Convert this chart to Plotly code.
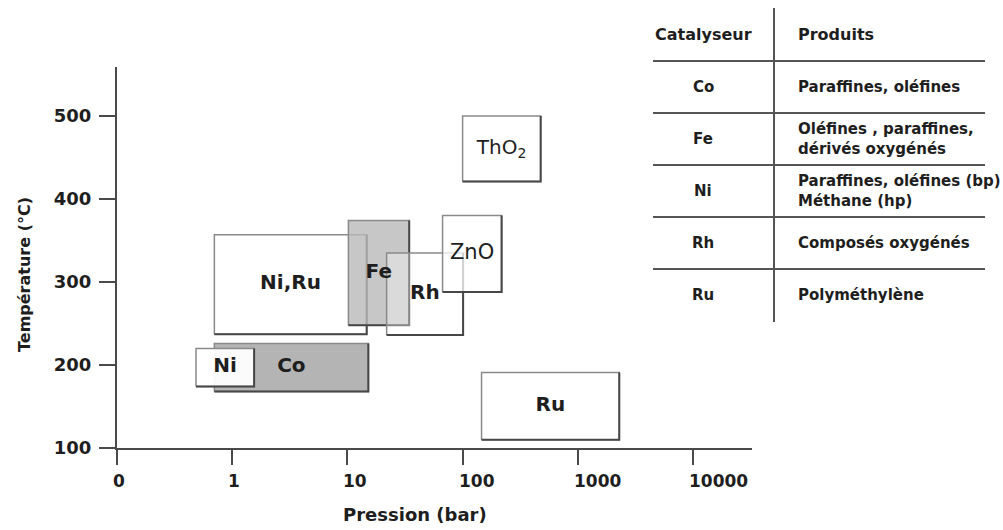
import numpy as np
import plotly.graph_objects as go

W, H = 1003, 530

# Domaines de pression / température des catalyseurs (ordre de superposition)
catalyseurs = ["Ni,Ru", "Co", "Ni", "Fe", "Rh", "ZnO", "ThO<sub>2</sub>", "Ru"]
p_min = [0.70, 0.70, 0.485, 10.2, 21.9, 67, 100, 146]      # bar
p_max = [14.7, 15.2, 1.55, 34.4, 101, 218, 476, 2290]      # bar
t_min = [237, 168, 174, 248, 236, 288, 421, 110]           # °C
t_max = [357, 226, 220, 374, 335, 380, 500, 191]           # °C

# Tableau des produits
tab_catalyseur = ["Co", "Fe", "Ni", "Rh", "Ru"]
tab_produits = [
    "Paraffines, oléfines",
    "Oléfines , paraffines,<br>dérivés oxygénés",
    "Paraffines, oléfines (bp)<br>Méthane (hp)",
    "Composés oxygénés",
    "Polyméthylène",
]

x_tickvals = [0.1, 1, 10, 100, 1000, 10000]
x_ticktext = ["0", "1", "10", "100", "1000", "10000"]
y_tickvals = [100, 200, 300, 400, 500]

FONT = "DejaVu Sans"
INK = "#1e1e1e"
AXIS = "#4a4a4a"

fills = {
    "Ni,Ru": "rgba(255,255,255,1)",
    "Co": "rgba(180,180,180,1)",
    "Ni": "rgba(255,255,255,0.95)",
    "Fe": "rgba(185,185,185,0.8)",
    "Rh": "rgba(255,255,255,0.35)",
    "ZnO": "rgba(255,255,255,0.75)",
    "ThO<sub>2</sub>": "rgba(255,255,255,1)",
    "Ru": "rgba(255,255,255,1)",
}
label_style = {
    "Ni,Ru": (20, "bold"), "Co": (20, "bold"), "Ni": (20, "bold"),
    "Fe": (20, "bold"), "Rh": (20, "bold"), "ZnO": (21, "normal"),
    "ThO<sub>2</sub>": (20, "normal"), "Ru": (20, "bold"),
}

fig = go.Figure()

for name, x0, x1, y0, y1 in zip(catalyseurs, p_min, p_max, t_min, t_max):
    # zone remplie avec contour clair
    fig.add_trace(go.Scatter(
        x=[x0, x1, x1, x0, x0], y=[y0, y0, y1, y1, y0],
        mode="lines", fill="toself", fillcolor=fills[name],
        line=dict(color="#8a8a8a", width=1.5), hoverinfo="skip",
    ))
    # bords droit et bas plus sombres
    fig.add_trace(go.Scatter(
        x=[x0, x1, x1], y=[y0, y0, y1], mode="lines",
        line=dict(color="#474747", width=2), hoverinfo="skip",
    ))

# étiquettes au centre de chaque domaine (centre géométrique en échelle log)
for name, x0, x1, y0, y1 in zip(catalyseurs, p_min, p_max, t_min, t_max):
    size, weight = label_style[name]
    fig.add_trace(go.Scatter(
        x=[np.sqrt(x0 * x1)], y=[(y0 + y1) / 2], mode="text", text=[name],
        textposition="middle center",
        textfont=dict(family=FONT, size=size, color=INK, weight=weight),
        hoverinfo="skip",
    ))

x_right = 4.512
fig.update_xaxes(
    type="log", range=[-1, x_right], domain=[117 / W, 752 / W],
    tickvals=x_tickvals, showticklabels=False,
    showline=True, linecolor=AXIS, linewidth=2,
    ticks="outside", ticklen=15, tickwidth=2, tickcolor=AXIS,
    showgrid=False, zeroline=False, automargin=False,
)
fig.update_yaxes(
    range=[100, 559], domain=[1 - 448 / H, 1 - 67 / H],
    tickvals=y_tickvals,
    showline=True, linecolor=AXIS, linewidth=2,
    ticks="outside", ticklen=16, tickwidth=2, tickcolor=AXIS,
    ticklabelstandoff=4,
    tickfont=dict(family=FONT, size=18, color=INK, weight="bold"),
    showgrid=False, zeroline=False, automargin=False,
)

def px(x):
    return x / W

def py(y):
    return 1 - y / H

annotations = []
# libellés de l'axe des pressions, calés à gauche sur la graduation
for v, t in zip(x_tickvals, x_ticktext):
    annotations.append(dict(
        x=np.log10(v), xref="x", y=py(469), yref="paper", text=t,
        showarrow=False, xanchor="left", yanchor="top", xshift=-6,
        font=dict(family=FONT, size=17, color=INK, weight="bold")))

annotations += [
    dict(x=px(415), y=py(514), text="Pression (bar)", showarrow=False,
         xref="paper", yref="paper", xanchor="center", yanchor="middle",
         font=dict(family=FONT, size=18, color=INK, weight="bold")),
    dict(x=px(24), y=py(275), text="Température (°C)", showarrow=False,
         xref="paper", yref="paper", xanchor="center", yanchor="middle",
         textangle=-90,
         font=dict(family=FONT, size=16, color=INK, weight="bold")),
]

shapes = []
# tableau : lignes
col_x = 774
cat_x = 703
prod_x = 796
row_top = 61
row_h = 52
tab_left, tab_right = 653, 985
for i in range(len(tab_catalyseur)):
    yl = row_top + i * row_h
    shapes.append(dict(type="line", xref="paper", yref="paper",
                       x0=px(tab_left), x1=px(tab_right), y0=py(yl), y1=py(yl),
                       line=dict(color="#555555", width=2)))
shapes.append(dict(type="line", xref="paper", yref="paper",
                   x0=px(col_x), x1=px(col_x), y0=py(8), y1=py(322),
                   line=dict(color="#555555", width=2)))

tab_font = dict(family=FONT, size=15, color=INK, weight="bold")
annotations.append(dict(x=px(cat_x), y=py(35), text="Catalyseur", showarrow=False,
                        xref="paper", yref="paper", xanchor="center", yanchor="middle",
                        font=dict(family=FONT, size=16, color=INK, weight="bold")))
annotations.append(dict(x=px(prod_x), y=py(35), text="Produits", showarrow=False,
                        xref="paper", yref="paper", xanchor="left", yanchor="middle",
                        font=dict(family=FONT, size=16, color=INK, weight="bold")))
for i, (c, p) in enumerate(zip(tab_catalyseur, tab_produits)):
    yc = row_top + i * row_h + row_h / 2
    annotations.append(dict(x=px(cat_x), y=py(yc), text=c, showarrow=False,
                            xref="paper", yref="paper", xanchor="center",
                            yanchor="middle", font=tab_font))
    annotations.append(dict(x=px(prod_x), y=py(yc), text=p, showarrow=False,
                            xref="paper", yref="paper", xanchor="left",
                            yanchor="middle", align="left", font=tab_font))

fig.update_layout(
    width=W, height=H,
    margin=dict(l=0, r=0, t=0, b=0),
    paper_bgcolor="white", plot_bgcolor="white",
    showlegend=False, hovermode=False,
    annotations=annotations, shapes=shapes,
    template="none",
)

fig.write_html("out.html")
